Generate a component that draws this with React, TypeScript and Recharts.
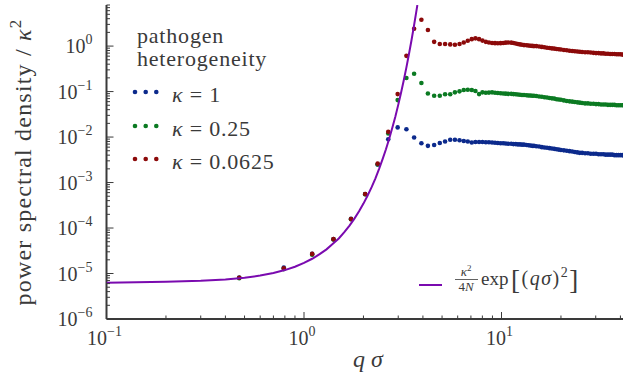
import React from 'react';
import { ScatterChart, Scatter, XAxis, YAxis } from 'recharts';

// wavevector grid (q sigma) shared by the three simulations
const qGrid = [
  0.47, 0.79, 1.10, 1.41, 1.73, 2.04, 2.36, 2.67, 2.98, 3.30,
  3.61, 3.93, 4.24, 4.56, 4.87, 5.18, 5.50, 5.81, 6.13, 6.44,
  6.75, 7.07, 7.38, 7.70, 8.01, 8.33, 8.64, 8.96, 9.27, 9.58,
  9.90, 10.2, 10.5, 10.8, 11.2, 11.5, 11.8, 12.1, 12.4, 12.7,
  13.0, 13.4, 13.7, 14.0, 14.3, 14.6, 15.0, 15.5, 16.0, 16.5,
  17.0, 17.5, 18.0, 18.5, 19.0, 19.5, 20.0, 20.7, 21.4, 22.1,
  22.8, 23.5, 24.2, 24.9, 25.6, 26.5, 27.4, 28.3, 29.2, 30.1,
  31.0, 31.9, 32.8, 33.7, 34.6, 35.5, 36.4, 37.3, 38.2, 39.1,
  40.0, 40.9, 41.8,
];

// kappa = 1
const psdKappa1 = [
  8.2e-6, 1.35e-5, 2.7e-5, 5.7e-5, 1.6e-4, 5.6e-4, 2.5e-3, 8.9e-3, 0.0163, 0.0148,
  0.0098, 0.0073, 0.0064, 0.0067, 0.0074, 0.0080, 0.0087, 0.0087, 0.0085, 0.0082,
  0.0080, 0.0076, 0.0078, 0.0078, 0.0078, 0.0077, 0.0077, 0.0076, 0.0075, 0.0074,
  0.0073, 0.0073, 0.0072, 0.0071, 0.0071, 0.0070, 0.0070, 0.0069, 0.0069, 0.0068,
  0.0068, 0.0067, 0.0066, 0.0065, 0.0064, 0.0064, 0.0063, 0.0062, 0.0060, 0.0059,
  0.0058, 0.0057, 0.0056, 0.0055, 0.0054, 0.0053, 0.0052, 0.0051, 0.0050, 0.0049,
  0.0048, 0.0047, 0.0046, 0.0045, 0.0045, 0.0044, 0.0044, 0.0043, 0.0043, 0.0043,
  0.0042, 0.0042, 0.0042, 0.0041, 0.0041, 0.0041, 0.0041, 0.0040, 0.0040, 0.0040,
  0.0040, 0.0040, 0.0039,
];

// kappa = 0.25
const psdKappa025 = [
  7.9e-6, 1.25e-5, 2.6e-5, 5.6e-5, 1.55e-4, 5.5e-4, 2.5e-3, 1.2e-2, 0.065, 0.198,
  0.246, 0.154, 0.091, 0.081, 0.081, 0.087, 0.087, 0.096, 0.101, 0.108,
  0.110, 0.108, 0.103, 0.088, 0.096, 0.094, 0.095, 0.096, 0.094, 0.093,
  0.092, 0.091, 0.090, 0.089, 0.089, 0.088, 0.087, 0.086, 0.085, 0.084,
  0.084, 0.083, 0.082, 0.082, 0.081, 0.081, 0.080, 0.078, 0.077, 0.075,
  0.074, 0.072, 0.071, 0.070, 0.068, 0.067, 0.066, 0.064, 0.062, 0.061,
  0.060, 0.059, 0.058, 0.057, 0.056, 0.055, 0.055, 0.054, 0.054, 0.053,
  0.053, 0.052, 0.052, 0.052, 0.051, 0.051, 0.051, 0.051, 0.050, 0.050,
  0.050, 0.050, 0.050,
];

// kappa = 0.0625
const psdKappa00625 = [
  8.1e-6, 1.3e-5, 2.7e-5, 5.7e-5, 1.58e-4, 5.6e-4, 2.6e-3, 1.3e-2, 0.088, 0.61,
  2.4, 3.8, 2.25, 1.24, 1.11, 1.11, 1.09, 1.07, 1.11, 1.20,
  1.31, 1.42, 1.48, 1.42, 1.32, 1.24, 1.20, 1.17, 1.16, 1.15,
  1.16, 1.17, 1.19, 1.20, 1.19, 1.17, 1.14, 1.11, 1.09, 1.07,
  1.05, 1.04, 1.03, 1.02, 1.01, 1.00, 1.00, 0.98, 0.96, 0.94,
  0.92, 0.91, 0.89, 0.88, 0.86, 0.85, 0.84, 0.82, 0.81, 0.79,
  0.78, 0.77, 0.76, 0.75, 0.74, 0.73, 0.73, 0.72, 0.71, 0.70,
  0.70, 0.69, 0.69, 0.68, 0.68, 0.67, 0.67, 0.67, 0.66, 0.66,
  0.66, 0.65, 0.65,
];

// theory curve kappa^2/(4N) exp[(q sigma)^2]
const fitQ = [
  0.1, 0.2, 0.3, 0.4, 0.5, 0.6, 0.7, 0.8, 0.9, 1.0,
  1.1, 1.2, 1.3, 1.4, 1.5, 1.6, 1.7, 1.8, 1.9, 2.0,
  2.1, 2.2, 2.3, 2.4, 2.5, 2.6, 2.7, 2.8, 2.9, 3.0,
  3.1, 3.2, 3.3, 3.4, 3.5, 3.6, 3.7, 3.75,
];
const fitPsd = [
  6.3e-6, 6.55e-6, 6.9e-6, 7.4e-6, 8.1e-6, 9.0e-6, 1.03e-5, 1.19e-5, 1.41e-5, 1.71e-5,
  2.11e-5, 2.66e-5, 3.4e-5, 4.5e-5, 5.9e-5, 8.1e-5, 1.13e-4, 1.61e-4, 2.33e-4, 3.44e-4,
  5.2e-4, 7.9e-4, 1.24e-3, 2.0e-3, 3.27e-3, 5.4e-3, 9.2e-3, 1.6e-2, 2.8e-2, 5.1e-2,
  9.4e-2, 0.177, 0.34, 0.67, 1.33, 2.7, 5.6, 8.0,
];

const xMajor = [0.1, 1, 10];
const xMajorExp = ['−1', '0', '1'];
const yMajor = [1e-6, 1e-5, 1e-4, 1e-3, 1e-2, 1e-1, 1];
const yMajorExp = ['−6', '−5', '−4', '−3', '−2', '−1', '0'];
const minorSteps = [2, 3, 4, 5, 6, 7, 8, 9];

const X_MAX = 42.2;
const Y_MAX = 8;

const BLUE = '#0c2a8c';
const GREEN = '#0b7a22';
const RED = '#8c0a0a';
const PURPLE = '#7a0aaf';
const INK = '#3a3a3a';
const FONT = "'Liberation Serif', 'DejaVu Serif', 'Times New Roman', serif";

const xTicks = xMajor.flatMap((m) => [m, ...minorSteps.map((k) => k * m)]).filter((v) => v <= X_MAX);
const yTicks = yMajor.flatMap((m) => [m, ...minorSteps.map((k) => k * m)]).filter((v) => v <= Y_MAX * 1.0001);

const majorIndex = (v: number, majors: number[]) => majors.findIndex((m) => Math.abs(v / m - 1) < 1e-6);

const toRows = (vals: number[]) => qGrid.map((q, i) => ({ q, v: vals[i] }));
const fitRows = fitQ.map((q, i) => ({ q, v: fitPsd[i] }));

const dot = (color: string) => (p: any) => <circle cx={p.cx} cy={p.cy} r={2.3} fill={color} />;

const serif = { fontFamily: FONT };

function XTick(props: any) {
  const { x, y, payload } = props;
  const idx = majorIndex(payload.value, xMajor);
  const len = idx >= 0 ? 7 : 3.5;
  return (
    <g>
      <line x1={x} y1={y} x2={x} y2={y - len} stroke={INK} strokeWidth={1} />
      {idx >= 0 && (
        <text x={x - 2} y={y + 26} textAnchor="middle" style={serif} fontSize={20} fill={INK}>
          10<tspan dy={-9} fontSize={14}>{xMajorExp[idx]}</tspan>
        </text>
      )}
    </g>
  );
}

function YTick(props: any) {
  const { x, y, payload } = props;
  const idx = majorIndex(payload.value, yMajor);
  const len = idx >= 0 ? 7 : 3.5;
  return (
    <g>
      <line x1={x} y1={y} x2={x + len} y2={y} stroke={INK} strokeWidth={1} />
      {idx >= 0 && (
        <text x={x - 14} y={y + 7} textAnchor="end" style={serif} fontSize={20} fill={INK}>
          10<tspan dy={-9} fontSize={14}>{yMajorExp[idx]}</tspan>
        </text>
      )}
    </g>
  );
}

const legendRows = [
  { label: '1', color: BLUE, y: 92 },
  { label: '0.25', color: GREEN, y: 126 },
  { label: '0.0625', color: RED, y: 159 },
];

export default function App() {
  return (
    <div style={{ position: 'absolute', left: 0, top: 0, width: 623, height: 383, overflow: 'hidden', background: '#fff' }}>
      <ScatterChart width={630} height={383} margin={{ top: 5, right: 5, bottom: 0, left: 0 }}>
        <XAxis
          type="number"
          dataKey="q"
          scale="log"
          domain={[0.1, X_MAX]}
          allowDataOverflow
          ticks={xTicks}
          interval={0}
          tick={<XTick />}
          tickLine={false}
          tickSize={0}
          tickMargin={0}
          axisLine={{ stroke: INK, strokeWidth: 2 }}
          height={64}
        />
        <YAxis
          type="number"
          dataKey="v"
          scale="log"
          domain={[1e-6, Y_MAX]}
          allowDataOverflow
          ticks={yTicks}
          interval={0}
          tick={<YTick />}
          tickLine={false}
          tickSize={0}
          tickMargin={0}
          axisLine={{ stroke: INK, strokeWidth: 2 }}
          width={106.5}
        />
        <Scatter data={toRows(psdKappa1)} shape={dot(BLUE)} isAnimationActive={false} />
        <Scatter data={toRows(psdKappa025)} shape={dot(GREEN)} isAnimationActive={false} />
        <Scatter data={toRows(psdKappa00625)} shape={dot(RED)} isAnimationActive={false} />
        <Scatter
          data={fitRows}
          line={{ stroke: PURPLE, strokeWidth: 2 }}
          lineType="joint"
          shape={() => <g />}
          isAnimationActive={false}
        />
      </ScatterChart>

      <svg width={623} height={383} style={{ position: 'absolute', left: 0, top: 0, pointerEvents: 'none', fontFamily: FONT }} fill={INK}>
        {/* axis labels */}
        <text transform="translate(31,162) rotate(-90)" textAnchor="middle" fontSize={24} letterSpacing={1.2}>
          power spectral density / <tspan fontStyle="italic">κ</tspan>
          <tspan dy={-10} fontSize={17}>2</tspan>
        </text>
        <text x={368} y={367} textAnchor="middle" fontSize={24} fontStyle="italic">
          q σ
        </text>

        {/* legend */}
        <text x={137} y={43} fontSize={22} letterSpacing={0.8}>pathogen</text>
        <text x={137} y={66} fontSize={22} letterSpacing={0.8}>heterogeneity</text>
        {legendRows.map((r) => (
          <g key={r.label}>
            {[135, 145.7, 156.3].map((cx) => (
              <circle key={cx} cx={cx} cy={r.y} r={2.3} fill={r.color} />
            ))}
            <text x={172} y={r.y + 9.5} fontSize={22} letterSpacing={0.8}>
              <tspan fontStyle="italic">κ</tspan> = {r.label}
            </text>
          </g>
        ))}

        <line x1={419} y1={285} x2={442} y2={285} stroke={PURPLE} strokeWidth={2} />
        <text x={466} y={276} textAnchor="middle" fontSize={13}>
          <tspan fontStyle="italic">κ</tspan>
          <tspan dy={-5} fontSize={9}>2</tspan>
        </text>
        <line x1={455} y1={279.5} x2={478} y2={279.5} stroke={INK} strokeWidth={0.8} />
        <text x={466} y={291} textAnchor="middle" fontSize={13}>
          4<tspan fontStyle="italic">N</tspan>
        </text>
        <text x={481} y={285} fontSize={19}>exp</text>
        <text x={511} y={285} fontSize={20} letterSpacing={1.5}>
          <tspan fontSize={27} dy={4}>[</tspan>
          <tspan dy={-4}>(</tspan>
          <tspan fontStyle="italic">qσ</tspan>)<tspan dy={-8} fontSize={14}>2</tspan>
          <tspan fontSize={27} dy={12}>]</tspan>
        </text>
      </svg>
    </div>
  );
}
